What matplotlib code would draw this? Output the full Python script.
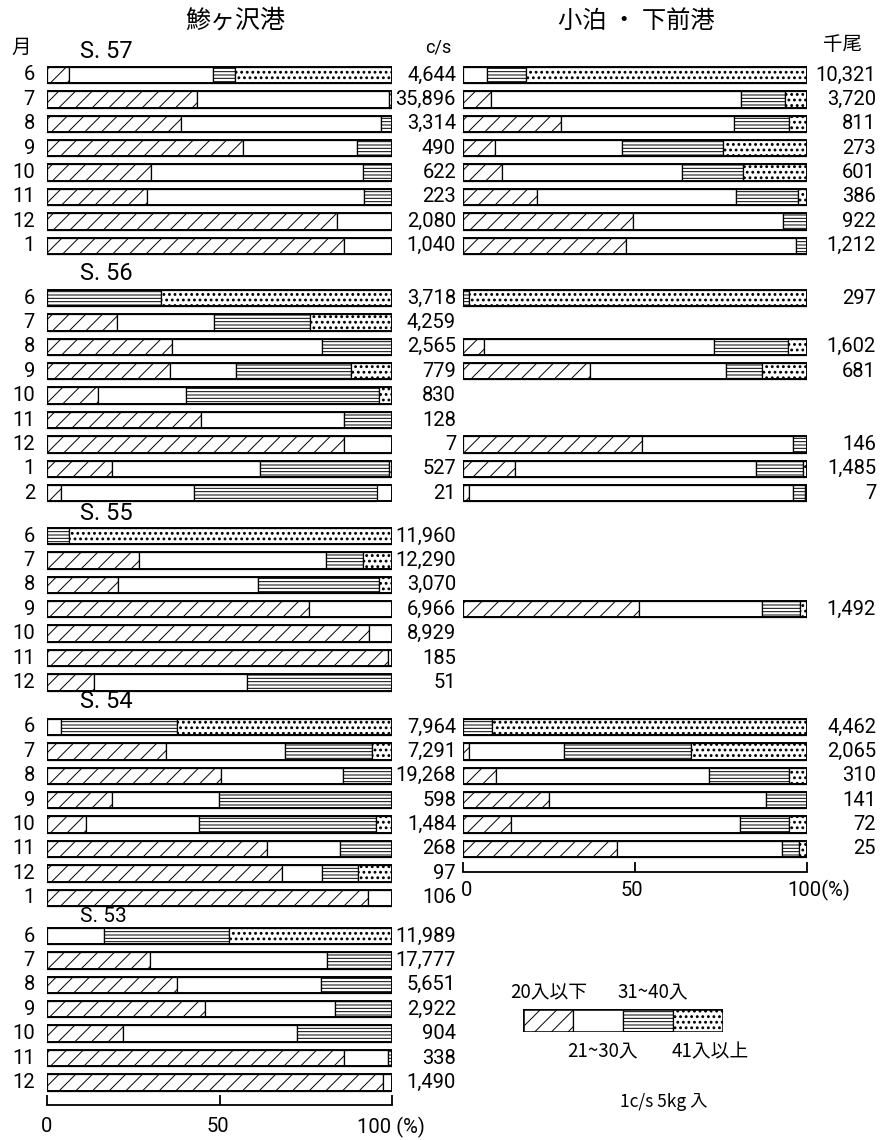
import numpy as np
import matplotlib
matplotlib.use('Agg')
import matplotlib.pyplot as plt
from matplotlib import hatch as mhatch

nan = np.nan

# ---------------- data ----------------
years = ['S. 57', 'S. 56', 'S. 55', 'S. 54', 'S. 53']
months_s57 = [6, 7, 8, 9, 10, 11, 12, 1]
months_s56 = [6, 7, 8, 9, 10, 11, 12, 1, 2]
months_s55 = [6, 7, 8, 9, 10, 11, 12]
months_s54 = [6, 7, 8, 9, 10, 11, 12, 1]
months_s53 = [6, 7, 8, 9, 10, 11, 12]

# 鯵ヶ沢港 (%)
left_le20 = [6.5, 43.4, 38.8, 56.8, 30.1, 28.9, 84.0, 86.2,
             0, 20.4, 36.1, 35.6, 14.9, 44.5, 86.0, 18.8, 4.1,
             0, 26.8, 20.7, 75.9, 93.2, 98.7, 13.5,
             0, 34.5, 50.4, 18.8, 11.3, 63.9, 68.1, 93.0,
             0, 29.9, 37.6, 45.8, 22.0, 86.0, 97.3]
left_21_30 = [41.7, 55.8, 58.0, 33.1, 61.4, 62.9, 16.0, 13.8,
              0, 28.1, 43.7, 19.1, 25.3, 41.7, 14.0, 42.9, 38.6,
              0, 54.1, 40.5, 24.1, 6.8, 1.3, 44.5,
              4.1, 34.6, 35.3, 31.0, 32.7, 21.1, 11.7, 7.0,
              16.4, 51.3, 41.9, 37.7, 50.4, 12.7, 2.7]
left_31_40 = [6.2, 0, 3.2, 10.1, 8.5, 8.2, 0, 0,
              33.0, 27.6, 20.2, 33.5, 56.1, 13.8, 0, 37.3, 53.0,
              6.5, 10.6, 35.1, 0, 0, 0, 42.0,
              33.7, 25.1, 14.3, 50.2, 51.4, 15.0, 10.3, 0,
              36.4, 18.8, 20.5, 16.5, 27.6, 1.3, 0]
left_ge41 = [45.6, 0.8, 0, 0, 0, 0, 0, 0,
             67.0, 23.9, 0, 11.8, 3.7, 0, 0, 1.0, 0,
             93.5, 8.5, 3.7, 0, 0, 0, 0,
             62.2, 5.8, 0, 0, 4.6, 0, 9.9, 0,
             47.2, 0, 0, 0, 0, 0, 0]
left_cases = [4644, 35896, 3314, 490, 622, 223, 2080, 1040,
              3718, 4259, 2565, 779, 830, 128, 7, 527, 21,
              11960, 12290, 3070, 6966, 8929, 185, 51,
              7964, 7291, 19268, 598, 1484, 268, 97, 106,
              11989, 17777, 5651, 2922, 904, 338, 1490]

# 小泊・下前港 (%)
right_le20 = [0, 8.1, 28.4, 9.2, 11.3, 21.5, 49.5, 47.4,
              0, nan, 6.0, 36.9, nan, nan, 52.1, 15.0, 1.6,
              nan, nan, nan, 51.2, nan, nan, nan,
              0, 1.6, 9.7, 24.9, 14.0, 44.7, nan, nan,
              nan, nan, nan, nan, nan, nan, nan]
right_21_30 = [7.0, 72.6, 50.3, 36.9, 52.4, 57.8, 43.5, 49.3,
               0, nan, 67.0, 39.5, nan, nan, 43.8, 70.1, 94.3,
               nan, nan, nan, 35.8, nan, nan, nan,
               0, 27.8, 61.9, 63.3, 66.5, 47.9, nan, nan,
               nan, nan, nan, nan, nan, nan, nan]
right_31_40 = [11.4, 12.8, 16.1, 29.5, 17.7, 18.1, 7.0, 3.3,
               1.6, nan, 21.5, 10.6, nan, nan, 4.1, 13.7, 3.4,
               nan, nan, nan, 11.0, nan, nan, nan,
               8.4, 36.8, 23.2, 11.8, 14.3, 5.1, nan, nan,
               nan, nan, nan, nan, nan, nan, nan]
right_ge41 = [81.6, 6.5, 5.2, 24.4, 18.6, 2.6, 0, 0,
              98.4, nan, 5.5, 13.0, nan, nan, 0, 1.2, 0.7,
              nan, nan, nan, 2.0, nan, nan, nan,
              91.6, 33.8, 5.2, 0, 5.2, 2.3, nan, nan,
              nan, nan, nan, nan, nan, nan, nan]
right_fish = [10321, 3720, 811, 273, 601, 386, 922, 1212,
              297, nan, 1602, 681, nan, nan, 146, 1485, 7,
              nan, nan, nan, 1492, nan, nan, nan,
              4462, 2065, 310, 141, 72, 25, nan, nan,
              nan, nan, nan, nan, nan, nan, nan]

legend_labels = ['20入以下', '21~30入', '31~40入', '41入以上']

# ---------------- style / layout ----------------
W, H = 880, 1140
plt.rcParams['hatch.linewidth'] = 0.7
mhatch.SmallFilledCircles.size = 0.17
NUM = ['Roboto', 'DejaVu Sans']
NUMW = 'normal'
CJK = ['Noto Sans CJK JP', 'DejaVu Sans']
hatches = ['//', '', '-----', '...']

fig = plt.figure(figsize=(W / 100, H / 100), dpi=100)
bg = fig.add_axes([0, 0, 1, 1])
bg.set_xlim(0, W)
bg.set_ylim(H, 0)
bg.axis('off')
bg.set_zorder(5)

month_groups = [months_s57, months_s56, months_s55, months_s54, months_s53]
group_start = [75, 298, 536, 727, 936]
label_dy = [-24, -25, -22, -25, -20]
step = 24.4
row_y = []
row_month = []
for gs, ms in zip(group_start, month_groups):
    for k, m in enumerate(ms):
        row_y.append(gs + k * step)
        row_month.append(m)
row_y = np.array(row_y)
bar_h = 16.5


def panel(x0, x1, ybottom, cols):
    ax = fig.add_axes([x0 / W, 1 - ybottom / H, (x1 - x0) / W, (ybottom - 30) / H])
    ax.set_xlim(0, 100)
    ax.set_ylim(ybottom, 30)
    ax.patch.set_alpha(0)
    for s in ['left', 'right', 'top']:
        ax.spines[s].set_visible(False)
    ax.spines['bottom'].set_linewidth(1.3)
    ax.set_yticks([])
    ax.set_xticks([0, 50, 100])
    ax.set_xticklabels([])
    ax.tick_params(axis='x', direction='in', length=7, width=1.3)
    data = np.array(cols, dtype=float)  # 4 x n
    valid = ~np.isnan(data[0])
    ys = row_y[valid]
    d = data[:, valid]
    lefts = np.zeros(d.shape[1])
    for k in range(4):
        w = d[k]
        m = w > 0
        ax.barh(ys[m], w[m], left=lefts[m], height=bar_h, facecolor='white',
                edgecolor='black', linewidth=0.9, hatch=hatches[k], zorder=2)
        lefts = lefts + w
    ax.barh(ys, np.full(len(ys), 100.0), height=bar_h, facecolor='none',
            edgecolor='black', linewidth=1.4, zorder=3)
    return ax


axL = panel(47, 392, 1105, [left_le20, left_21_30, left_31_40, left_ge41])
axR = panel(463, 807, 872, [right_le20, right_21_30, right_31_40, right_ge41])

# labels
fs = 14.5
for y, m in zip(row_y, row_month):
    bg.text(35, y, str(m), ha='right', va='center', fontsize=fs, family=NUM, weight=NUMW)
for y, c in zip(row_y, left_cases):
    bg.text(456, y, f'{c:,}', ha='right', va='center', fontsize=fs, family=NUM, weight=NUMW)
for y, c in zip(row_y, right_fish):
    if not np.isnan(c):
        bg.text(876, y, f'{int(c):,}', ha='right', va='center', fontsize=fs, family=NUM, weight=NUMW)
for gs, dy, yl in zip(group_start, label_dy, years):
    bg.text(80, gs + dy, yl, ha='left', va='center', fontsize=17 if yl != 'S. 53' else 15,
            family=NUM, weight=NUMW)

bg.text(235, 21, '鯵ヶ沢港', ha='center', va='center', fontsize=18, family=CJK)
bg.text(636, 21, '小泊 ・ 下前港', ha='center', va='center', fontsize=17.5, family=CJK)
bg.text(21, 47, '月', ha='center', va='center', fontsize=14, family=CJK)
bg.text(438, 48, 'c/s', ha='center', va='center', fontsize=13, family=NUM, weight=NUMW)
bg.text(843, 45, '千尾', ha='center', va='center', fontsize=14, family=CJK)

# axis labels
bg.text(47, 1127, '0', ha='center', va='center', fontsize=fs, family=NUM, weight=NUMW)
bg.text(218, 1127, '50', ha='center', va='center', fontsize=fs, family=NUM, weight=NUMW)
bg.text(357, 1127, '100 (%)', ha='left', va='center', fontsize=fs, family=NUM, weight=NUMW)
bg.text(467, 890, '0', ha='center', va='center', fontsize=fs, family=NUM, weight=NUMW)
bg.text(632, 890, '50', ha='center', va='center', fontsize=fs, family=NUM, weight=NUMW)
bg.text(787, 890, '100(%)', ha='left', va='center', fontsize=fs, family=NUM, weight=NUMW)

# legend
axLeg = fig.add_axes([523 / W, 1 - 1032 / H, 200 / W, 23 / H])
axLeg.set_xlim(0, 100)
axLeg.set_ylim(-0.5, 0.5)
axLeg.axis('off')
for k in range(4):
    axLeg.barh(0, 25, left=25 * k, height=1.0, facecolor='white', edgecolor='black',
               linewidth=0.9, hatch=hatches[k])
axLeg.barh(0, 100, height=1.0, facecolor='none', edgecolor='black', linewidth=1.8)
lfs = 13.5
bg.text(510, 993, legend_labels[0], ha='left', va='center', fontsize=lfs, family=CJK)
bg.text(617, 993, legend_labels[2], ha='left', va='center', fontsize=lfs, family=CJK)
bg.text(567, 1052, legend_labels[1], ha='left', va='center', fontsize=lfs, family=CJK)
bg.text(672, 1052, legend_labels[3], ha='left', va='center', fontsize=lfs, family=CJK)
bg.text(620, 1102, '1c/s 5kg 入', ha='left', va='center', fontsize=12.5, family=CJK)

fig.savefig('out.png', dpi=100)
